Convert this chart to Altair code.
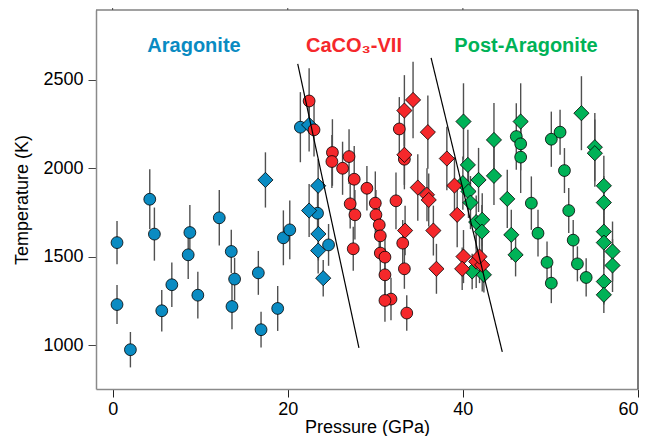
import altair as alt
import pandas as pd

# ---------------- data ----------------
phase_names = ["Aragonite", "CaCO₃-VII", "Post-Aragonite"]
phase_colors = ["#0a8bc2", "#f5282b", "#00b257"]

# Aragonite (blue)
ara_circ_P = [0.50, 0.50, 2.03, 4.24, 4.77, 5.61, 6.76, 8.82, 8.63, 9.73, 12.18, 13.55, 13.93, 13.63,
              16.64, 16.95, 18.85, 19.5, 20.23, 21.44, 23.4, 24.66]
ara_circ_T = [1581, 1231, 976, 1826, 1629, 1196, 1343, 1638, 1512, 1284, 1721, 1531, 1375, 1220,
              1410, 1089, 1209, 1608, 1653, 2233, 1747, 1568]
ara_circ_E = [122, 110, 100, 170, 150, 117, 126, 156, 137, 132, 157, 122, 120, 128,
              124, 101, 127, 155, 166, 198, 150, 118]
ara_diam_P = [17.45, 22.44, 23.47, 22.44, 23.5, 23.47, 24.05]
ara_diam_T = [1935, 2246, 1902, 1762, 1630, 1536, 1380]
ara_diam_E = [156, 150, 150, 150, 150, 130, 103]

# CaCO3-VII (red)
vii_circ_P = [22.44, 23.0, 25.1, 25.04, 27.0, 26.26, 27.59, 29.04, 27.13, 27.67, 30.0, 30.07, 30.45,
              30.57, 27.48, 30.57, 31.1, 31.1, 31.79, 31.1, 33.59, 32.36, 32.74, 33.32, 33.13, 33.32]
vii_circ_T = [2381, 2218, 2090, 2039, 2067, 2001, 1939, 1888, 1800, 1738, 1804, 1738, 1681,
              1619, 1546, 1522, 1499, 1399, 1262, 1254, 1183, 1817, 2223, 2052, 1578, 1433]
vii_circ_E = [185, 150, 188, 150, 155, 150, 188, 126, 140, 140, 179, 140, 140,
              140, 124, 130, 130, 150, 120, 120, 100, 160, 180, 170, 130, 113]
vii_diam_P = [34.31, 33.32, 36.0, 33.32, 34.85, 35.9, 36.1, 33.4, 36.63, 36.98, 38.17, 39.04,
              39.35, 40.07, 39.92, 41.52, 42.21, 41.9]
vii_diam_T = [2387, 2327, 2205, 2077, 1892, 1851, 1822, 1649, 1649, 1433, 2056, 1903,
              1738, 1502, 1433, 1474, 1455, 1502]
vii_diam_E = [216, 200, 207, 170, 188, 150, 150, 140, 141, 141, 179, 160,
              183, 150, 120, 150, 150, 150]

# Post-Aragonite (green)
post_diam_P = [40.07, 40.57, 40.0, 40.64, 40.87, 41.79, 41.52, 42.21, 42.17, 41.06, 42.40, 43.55,
               43.55, 45.07, 45.53, 46.02, 46.6, 53.54, 55.07, 55.07, 56.1, 56.1, 56.1, 56.1,
               57.09, 57.09, 56.1, 56.1]
post_diam_T = [2265, 2020, 1917, 1870, 1807, 1935, 1697, 1710, 1643, 1418, 1399, 2161,
               1958, 1828, 1625, 1512, 2265, 2312, 2120, 2086, 1902, 1807, 1643, 1581,
               1531, 1452, 1361, 1286]
post_diam_E = [216, 198, 150, 150, 150, 181, 150, 150, 150, 100, 100, 209,
               164, 164, 141, 122, 216, 209, 193, 190, 169, 150, 150, 150,
               169, 150, 130, 103]
post_circ_P = [46.1, 46.6, 46.6, 47.82, 48.58, 49.61, 50.1, 50.1, 51.1, 51.6, 52.09, 52.6, 53.08, 54.08]
post_circ_T = [2180, 2139, 2064, 1804, 1634, 1469, 1352, 2165, 2205, 1988, 1762, 1595, 1461, 1384]
post_circ_E = [188, 150, 203, 151, 132, 118, 113, 156, 127, 127, 127, 113, 99, 108]

# phase boundaries (end points)
bnd_P1 = [21.14, 36.37]
bnd_T1 = [2590, 2624]
bnd_P2 = [28.13, 44.5]
bnd_T2 = [987, 964]

x_ticks = [0, 20, 40, 60]
y_ticks = [1000, 1500, 2000, 2500]
top_ticks = [0, 20, 40]

# ---------------- assemble table ----------------
rows = []
def add(phase, shape, P, T, E):
    for p, t, e in zip(P, T, E):
        rows.append({"P": p, "T": t, "err": e, "phase": phase, "shape": shape})

# draw order: blue, green, red
add(phase_names[0], "circle", ara_circ_P, ara_circ_T, ara_circ_E)
add(phase_names[0], "diamond", ara_diam_P, ara_diam_T, ara_diam_E)
add(phase_names[2], "diamond", post_diam_P, post_diam_T, post_diam_E)
add(phase_names[2], "circle", post_circ_P, post_circ_T, post_circ_E)
add(phase_names[1], "circle", vii_circ_P, vii_circ_T, vii_circ_E)
add(phase_names[1], "diamond", vii_diam_P, vii_diam_T, vii_diam_E)
df = pd.DataFrame(rows)
df["lo"] = df["T"] - df["err"]
df["hi"] = df["T"] + df["err"]

bnd = pd.DataFrame({"P": bnd_P1, "T": bnd_T1, "P2": bnd_P2, "T2": bnd_T2})

W, H = 542, 379
FONT = "Liberation Sans"

xscale = alt.Scale(domain=[-1.9, 60], nice=False, zero=False)
yscale = alt.Scale(domain=[754, 2895], nice=False, zero=False)
xaxis = alt.Axis(title="Pressure (GPa)", values=x_ticks, format="d", grid=False, tickSize=8,
                 tickColor="#222", domainColor="#8a8a8a", domainWidth=1.5,
                 labelFontSize=18, titleFontSize=18, titleFontWeight="normal",
                 labelColor="black", titleColor="black", labelPadding=3, titlePadding=0,
                 labelFont=FONT, titleFont=FONT)
yaxis = alt.Axis(title="Temperature (K)", values=y_ticks, format="d", grid=False, tickSize=8,
                 tickColor="#444", domainColor="#8a8a8a", domainWidth=1.5,
                 labelFontSize=18, titleFontSize=18, titleFontWeight="normal",
                 labelColor="black", titleColor="black", labelPadding=5, titlePadding=11,
                 labelFont=FONT, titleFont=FONT)

base = alt.Chart(df)

errbars = base.mark_rule(color="#505050", strokeWidth=1.4).encode(
    x=alt.X("P:Q", scale=xscale, axis=xaxis),
    y=alt.Y("lo:Q", scale=yscale, axis=yaxis),
    y2="hi:Q",
)

points = base.mark_point(filled=True, stroke="black", strokeWidth=0.8,
                         opacity=1, fillOpacity=1).encode(
    x=alt.X("P:Q", scale=xscale, axis=xaxis),
    y=alt.Y("T:Q", scale=yscale, axis=yaxis),
    fill=alt.Fill("phase:N", scale=alt.Scale(domain=phase_names, range=phase_colors), legend=None),
    shape=alt.Shape("shape:N", scale=alt.Scale(domain=["circle", "diamond"], range=["circle", "diamond"]), legend=None),
    size=alt.Size("shape:N", scale=alt.Scale(domain=["circle", "diamond"], range=[140, 230]), legend=None),
)

lines = alt.Chart(bnd).mark_rule(color="black", strokeWidth=1.2).encode(
    x=alt.X("P:Q", scale=xscale, axis=xaxis),
    y=alt.Y("T:Q", scale=yscale, axis=yaxis),
    x2="P2:Q",
    y2="T2:Q",
)

one = pd.DataFrame({"a": [0]})
top_frame = alt.Chart(one).mark_rule(color="#444", strokeWidth=1.2).encode(
    x=alt.value(0), x2=alt.value(W), y=alt.value(0))
right_frame = alt.Chart(one).mark_rule(color="#222", strokeWidth=1.2).encode(
    x=alt.value(W), y=alt.value(0), y2=alt.value(H))
top_tick = alt.Chart(pd.DataFrame({"P": top_ticks})).mark_rule(color="#444", strokeWidth=1).encode(
    x=alt.X("P:Q", scale=xscale, axis=xaxis), y=alt.value(-3), y2=alt.value(0))

label_x = [98, 258, 430]
texts = []
for name, col, lx in zip(phase_names, phase_colors, label_x):
    texts.append(
        alt.Chart(pd.DataFrame({"label": [name]})).mark_text(
            font=FONT, fontSize=20, fontWeight="bold", color=col,
            align="center", baseline="alphabetic",
        ).encode(text="label:N", x=alt.value(lx), y=alt.value(42))
    )

chart = alt.layer(errbars, points, lines, top_frame, right_frame, top_tick, *texts).properties(
    width=W, height=H, autosize=alt.AutoSizeParams(type="none"),
    padding={"left": 88, "top": 2, "right": 2, "bottom": 47},
).configure_view(stroke=None)

chart.save("out.html", embed_options={"renderer": "svg", "actions": False})
